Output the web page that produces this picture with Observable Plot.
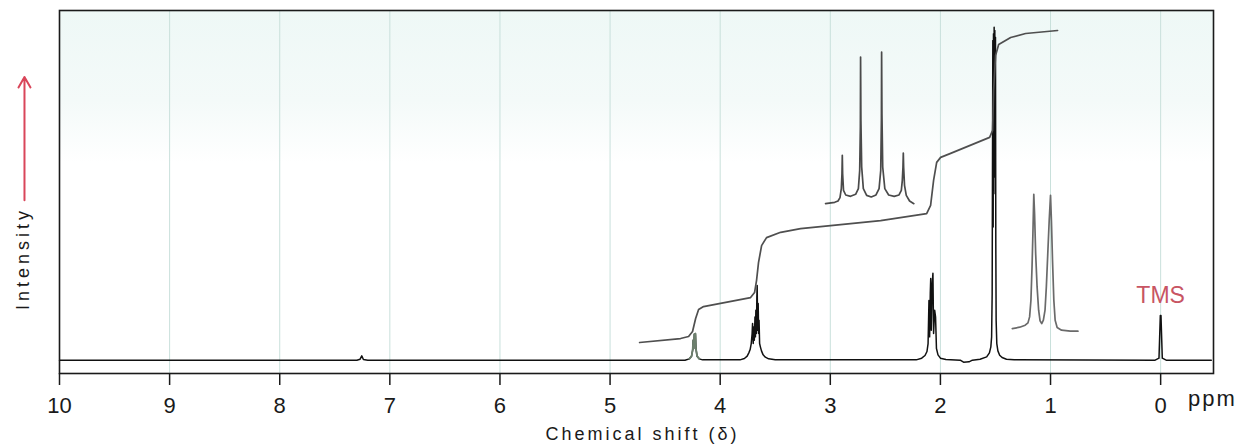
<!DOCTYPE html>
<html>
<head>
<meta charset="utf-8">
<script src="https://cdn.jsdelivr.net/npm/d3@7"></script>
<script src="https://cdn.jsdelivr.net/npm/@observablehq/plot@0.6"></script>
<style>
  html, body { margin: 0; padding: 0; background: #fff; }
  #chart { width: 1247px; height: 448px; }
</style>
</head>
<body>
<div id="chart"></div>
<script>
// ---- data: [chemical shift (ppm), intensity (% of tallest peak)] ----
const xTicks = [10, 9, 8, 7, 6, 5, 4, 3, 2, 1, 0];
const gridTicks = [9, 8, 7, 6, 5, 4, 3, 2, 1, 0];

const spectrum = [
  [10.0, 0], [7.30, 0], [7.27, 0.3], [7.255, 1.3], [7.24, 0.2], [7.20, 0],
  [4.32, 0], [4.28, 0.4], [4.26, 1.2], [4.25, 3], [4.245, 6], [4.24, 3.5], [4.235, 7.8], [4.23, 4.5],
  [4.225, 8], [4.22, 3.5], [4.21, 1.2], [4.19, 0.4], [4.16, 0.1],
  [3.82, 0.1], [3.78, 0.5], [3.755, 1.2], [3.74, 2.2], [3.728, 3.2], [3.718, 5], [3.710, 8], [3.706, 11],
  [3.700, 5], [3.695, 10], [3.690, 6], [3.684, 13], [3.680, 7], [3.676, 15], [3.671, 8], [3.667, 19],
  [3.664, 22.4], [3.660, 9], [3.655, 17], [3.651, 8], [3.647, 12], [3.642, 5], [3.635, 4], [3.625, 2.8],
  [3.61, 1.6], [3.59, 0.9], [3.56, 0.4], [3.50, 0.1],
  [2.22, 0.1], [2.17, 0.6], [2.14, 1.4], [2.122, 2.6], [2.112, 5], [2.104, 17.9], [2.098, 7], [2.092, 20],
  [2.088, 24.5], [2.083, 9], [2.076, 22], [2.068, 26.1], [2.062, 8], [2.052, 15], [2.044, 12.9], [2.036, 3.5],
  [2.022, 1.6], [2.00, 0.6], [1.95, 0.2],
  [1.82, 0], [1.79, -0.6], [1.74, -0.5], [1.71, 0],
  [1.64, 0.3], [1.58, 1.0], [1.555, 2.2], [1.542, 4], [1.535, 7], [1.530, 20], [1.527, 60], [1.524, 96],
  [1.521, 40], [1.518, 98], [1.515, 55], [1.512, 100], [1.509, 60], [1.506, 99], [1.503, 50], [1.500, 97],
  [1.497, 35], [1.494, 12], [1.488, 5], [1.478, 2.8], [1.462, 1.5], [1.44, 0.8], [1.40, 0.3], [1.33, 0.1],
  [0.05, 0], [0.015, 0.6], [0.003, 13.4], [-0.003, 13.4], [-0.015, 0.6], [-0.05, 0], [-0.46, 0]
];

const multiplet42 = [
  [4.28, 0.4], [4.26, 1.2], [4.25, 3], [4.245, 6], [4.24, 3.5], [4.235, 7.8], [4.23, 4.5],
  [4.225, 8], [4.22, 3.5], [4.21, 1.2], [4.19, 0.4]
];

const integral = [
  [4.732, 5.3], [4.360, 6.5], [4.287, 7.1], [4.251, 8.6], [4.223, 12.5], [4.196, 15.2], [4.151, 16.1],
  [3.724, 18.8], [3.688, 20.3], [3.670, 23.9], [3.652, 29.3], [3.624, 34.4], [3.579, 36.8], [3.451, 38.4],
  [3.270, 39.5], [2.543, 41.9], [2.125, 44.0], [2.089, 46.5], [2.062, 54.0], [2.034, 59.4], [1.998, 60.9],
  [1.907, 62.1], [1.553, 66.9], [1.526, 69.0], [1.517, 81.0], [1.499, 91.5], [1.471, 94.8], [1.362, 96.9],
  [1.226, 98.1], [0.936, 99.0]
];

const quartetInset = [
  [3.043, 47.0], [2.96, 47.4], [2.93, 47.8], [2.912, 48.8], [2.900, 51.5], [2.894, 56], [2.891, 61.5],
  [2.888, 56], [2.880, 51], [2.860, 49.6], [2.816, 49.2], [2.770, 49.8], [2.745, 51.5], [2.733, 57],
  [2.727, 70], [2.725, 91.0], [2.722, 72], [2.715, 58], [2.700, 51.5], [2.670, 49.5], [2.628, 49.0],
  [2.585, 49.6], [2.557, 51.5], [2.542, 57], [2.536, 72], [2.534, 92.5], [2.531, 74], [2.524, 58],
  [2.505, 51.5], [2.470, 49.6], [2.420, 49.2], [2.376, 49.6], [2.355, 51], [2.346, 54], [2.340, 58],
  [2.337, 62.2], [2.334, 58], [2.326, 52.5], [2.31, 49.5], [2.28, 47.8], [2.241, 47.0]
];

const doubletInset = [
  [1.347, 9.5], [1.28, 9.9], [1.23, 10.5], [1.205, 11.2], [1.190, 13], [1.178, 18], [1.168, 28],
  [1.160, 38], [1.152, 49.8], [1.145, 44], [1.135, 32], [1.122, 22], [1.108, 15], [1.095, 11.8],
  [1.080, 11.0], [1.065, 12], [1.050, 15], [1.038, 22], [1.025, 32], [1.012, 42], [1.000, 49.5],
  [0.992, 42], [0.982, 30], [0.970, 18], [0.958, 12], [0.940, 9.8], [0.90, 9.0], [0.82, 8.7], [0.751, 8.7]
];

const peakLabels = [{label: "TMS", ppm: 0, value: 19.4}];
const intensityArrow = [{ppm: 10.318, from: 48, to: 85}];

// ---- chart ----
const X = d => d[0], Y = d => d[1];
const svg = Plot.plot({
  width: 1247,
  height: 448,
  marginTop: 10,
  marginBottom: 75,
  marginLeft: 59,
  marginRight: 34,
  style: {fontFamily: "'Liberation Sans', Arial, sans-serif", background: "#fff", color: "#1a1a1a", overflow: "visible"},
  x: {domain: [10, -0.48]},
  y: {domain: [-4, 105], axis: null},
  marks: [
    Plot.frame({fill: "url(#bgfade)", stroke: "none"}),
    Plot.gridX(gridTicks, {stroke: "#c9e0db", strokeOpacity: 1, strokeWidth: 1}),
    Plot.line(spectrum, {x: X, y: Y, stroke: "#111", strokeWidth: 1.5}),
    Plot.line(multiplet42, {x: X, y: Y, stroke: "#6d806e", strokeWidth: 1.8}),
    Plot.line(integral, {x: X, y: Y, stroke: "#4f4f4f", strokeWidth: 1.7}),
    Plot.line(quartetInset, {x: X, y: Y, stroke: "#4a4a4a", strokeWidth: 1.7}),
    Plot.line(doubletInset, {x: X, y: Y, stroke: "#6a6a6a", strokeWidth: 1.7}),
    Plot.frame({stroke: "#1a1a1a", strokeWidth: 1.6}),
    Plot.axisX({ticks: xTicks, tickFormat: d => String(d), tickSize: 12, tickPadding: 12, fontSize: 22, strokeWidth: 1.5, label: null}),
    Plot.text(peakLabels, {x: "ppm", y: "value", text: "label", fill: "#c85563", fontSize: 23, textAnchor: "middle"}),
    Plot.text(["Chemical shift (δ)"], {frameAnchor: "bottom", textAnchor: "middle", dx: 6, dy: 66, fontSize: 18, fill: "#1a1a1a"}),
    Plot.text(["ppm"], {frameAnchor: "bottom-right", dx: -1, dy: 32, fontSize: 22, textAnchor: "middle", fill: "#1a1a1a"}),
    Plot.text(["Intensity"], {frameAnchor: "left", textAnchor: "middle", rotate: -90, dx: -36.5, dy: 66.5, fontSize: 18, fill: "#1a1a1a"}),
    Plot.arrow(intensityArrow, {x1: "ppm", x2: "ppm", y1: "from", y2: "to", stroke: "#d9465a", strokeWidth: 2, headLength: 9})
  ]
});

// background fade (scanned page tint at the top of the panel)
const defs = d3.select(svg).insert("defs", ":first-child");
const grad = defs.append("linearGradient").attr("id", "bgfade").attr("x1", 0).attr("y1", 0).attr("x2", 0).attr("y2", 1);
grad.append("stop").attr("offset", "0%").attr("stop-color", "#eef8f6");
grad.append("stop").attr("offset", "25%").attr("stop-color", "#f4faf9");
grad.append("stop").attr("offset", "42%").attr("stop-color", "#ffffff");
grad.append("stop").attr("offset", "100%").attr("stop-color", "#ffffff");

d3.select(svg).selectAll("text").each(function () {
  const t = this.textContent;
  if (t === "Chemical shift (δ)") this.setAttribute("letter-spacing", "3");
  if (t === "Intensity") this.setAttribute("letter-spacing", "4");
  if (t === "ppm") this.setAttribute("letter-spacing", "2");
});

document.getElementById("chart").appendChild(svg);
</script>
</body>
</html>
